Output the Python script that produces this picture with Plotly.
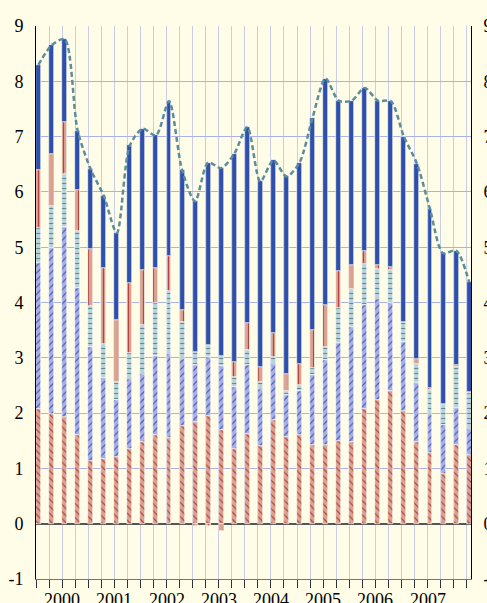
import plotly.graph_objects as go

# ---- data ----
quarters = ["2000Q1", "2000Q2", "2000Q3", "2000Q4", "2001Q1", "2001Q2", "2001Q3", "2001Q4",
            "2002Q1", "2002Q2", "2002Q3", "2002Q4", "2003Q1", "2003Q2", "2003Q3", "2003Q4",
            "2004Q1", "2004Q2", "2004Q3", "2004Q4", "2005Q1", "2005Q2", "2005Q3", "2005Q4",
            "2006Q1", "2006Q2", "2006Q3", "2006Q4", "2007Q1", "2007Q2", "2007Q3", "2007Q4",
            "2008Q1", "2008Q2"]
years = ["2000", "2001", "2002", "2003", "2004", "2005", "2006", "2007"]
y_tickvals = [-1, 0, 1, 2, 3, 4, 5, 6, 7, 8, 9]
y_ticktext = ["-1", "0", "1", "2", "3", "4", "5", "6", "7", "8", "9"]

s1 = [2.07, 1.99, 1.93, 1.60, 1.13, 1.17, 1.20, 1.35, 1.47, 1.60, 1.55, 1.77, 1.84, 1.95, 1.70, 1.35, 1.62,
      1.41, 1.88, 1.57, 1.60, 1.43, 1.43, 1.50, 1.48, 2.07, 2.23, 2.40, 2.04, 1.48, 1.27, 0.89, 1.43, 1.24]
s2 = [2.64, 2.99, 3.43, 2.67, 2.06, 1.47, 1.03, 1.26, 1.23, 1.44, 1.52, 1.20, 1.03, 1.07, 1.16, 1.12, 1.25,
      1.02, 1.00, 0.75, 0.80, 1.26, 1.53, 1.77, 2.08, 1.88, 1.83, 1.60, 1.25, 1.06, 0.72, 0.89, 0.66, 0.48]
s3 = [0.64, 0.77, 0.97, 1.03, 0.74, 0.61, 0.34, 0.47, 0.90, 0.96, 1.14, 0.68, 0.24, 0.21, 0.18, 0.18, 0.27,
      0.13, 0.14, 0.08, 0.11, 0.12, 0.23, 0.63, 0.68, 0.75, 0.54, 0.58, 0.35, 0.35, 0.43, 0.39, 0.74, 0.65]
s4 = [1.05, 0.94, 0.94, 0.74, 1.04, 1.38, 1.12, 1.28, 0.99, 0.63, 0.63, 0.21, -0.05, -0.05, -0.13, 0.27, 0.49,
      0.28, 0.43, 0.30, 0.37, 0.69, 0.76, 0.67, 0.44, 0.24, 0.08, 0.06, 0.00, 0.08, 0.03, 0.00, 0.04, 0.01]
s5 = [1.90, 1.96, 1.49, 1.07, 1.44, 1.30, 1.57, 2.48, 2.55, 2.39, 2.80, 2.54, 2.72, 3.30, 3.39, 3.77, 3.54,
      3.35, 3.12, 3.58, 3.65, 3.84, 4.10, 3.08, 2.97, 2.94, 2.97, 3.00, 3.36, 3.54, 3.24, 2.72, 2.07, 1.99]
total = [8.30, 8.65, 8.76, 7.11, 6.41, 5.93, 5.26, 6.84, 7.14, 7.02, 7.64, 6.40, 5.83, 6.53, 6.43, 6.69, 7.17,
         6.19, 6.57, 6.28, 6.53, 7.34, 8.05, 7.65, 7.65, 7.88, 7.65, 7.64, 7.00, 6.51, 5.69, 4.89, 4.94, 4.37]

# ---- styling ----
BG = "#fffde8"
FONT = dict(family="Liberation Serif, Times New Roman, serif", size=18, color="black")
BAR_W = 0.38
SLOT_SHIFT = BAR_W / 2  # bars sit at the left edge of each slot

x = list(range(len(quarters)))

fig = go.Figure()

series = [
    (s1, "#d9a291", "#b5443c", "\\"),
    (s2, "#a7afe6", "#4a5cb4", "/"),
    (s3, "#bad3d9", "#5b8c99", "-"),
    (s4, "#d9a291", "#b5443c", "|"),
]
for vals, bg, fg, shp in series:
    fig.add_trace(go.Bar(
        x=x, y=vals, width=BAR_W,
        marker=dict(color=bg,
                    line=dict(color="white", width=0.6),
                    pattern=dict(shape=shp, bgcolor=bg, fgcolor=fg, size=5,
                                 solidity=0.22, fillmode="replace")),
        showlegend=False, hoverinfo="skip"))

fig.add_trace(go.Bar(
    x=x, y=s5, width=BAR_W,
    marker=dict(color="#2f50aa", line=dict(color="white", width=0.6)),
    showlegend=False, hoverinfo="skip"))

fig.add_trace(go.Scatter(
    x=x, y=total, mode="lines", yaxis="y2",
    line=dict(color="#5b8d9c", width=2.5, dash="5px,3px", shape="spline", smoothing=0.8),
    showlegend=False, hoverinfo="skip"))

n = len(quarters)
left = -SLOT_SHIFT
right = left + 435 / 13.05

for i, yr in enumerate(years):
    fig.add_annotation(x=4 * i + 2 - SLOT_SHIFT, y=-1, xref="x", yref="y",
                       text=yr, showarrow=False, yanchor="top", yshift=-9,
                       font=FONT)

yax = dict(range=[-1, 9], tickmode="array", tickvals=y_tickvals, ticktext=y_ticktext,
           showline=True, linecolor="black", linewidth=1, ticks="",
           tickfont=FONT, ticklabelstandoff=8, automargin=False)

fig.update_layout(
    width=487, height=603,
    margin=dict(l=36, r=16, t=26, b=24, pad=0),
    paper_bgcolor=BG, plot_bgcolor=BG,
    barmode="relative", bargap=0,
    showlegend=False,
    xaxis=dict(range=[left, right],
               tickmode="array", tickvals=[k - SLOT_SHIFT for k in range(n + 1)],
               showticklabels=False, ticks="outside", ticklen=8, tickwidth=1.3,
               tickcolor="#333333",
               showgrid=True, gridcolor="#c9cde8", gridwidth=1,
               zeroline=False, showline=True, linecolor="#777777", linewidth=1,
               automargin=False),
    yaxis=dict(**yax, showgrid=True, gridcolor="#aab2e6", gridwidth=1,
               zeroline=True, zerolinecolor="#555555", zerolinewidth=1.5),
    yaxis2=dict(**yax, overlaying="y", side="right", showgrid=False, zeroline=False),
)

fig.write_html("out.html", config={"displayModeBar": False},
               post_script="document.body.style.margin='0';document.body.style.overflow='hidden';")
